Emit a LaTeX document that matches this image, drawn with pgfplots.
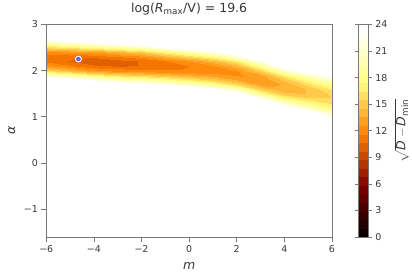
\documentclass[border=0pt]{standalone}
\usepackage{fontspec}
\setmainfont{DejaVu Sans}
\usepackage{amsmath}
\usepackage{pgfplots}
\pgfplotsset{compat=1.18}
\definecolor{spine}{gray}{0.47}
\definecolor{txt}{gray}{0.22}
\definecolor{mk}{RGB}{98,98,240}
\pgfplotsset{
  tick label style={font=\fontsize{9.6}{11}\selectfont, text=txt},
  label style={font=\fontsize{12.7}{14}\selectfont, text=txt},
  axis line style={spine, line width=0.8pt},
  tick style={spine, line width=0.8pt},
}
\begin{document}
\begin{tikzpicture}
\begin{axis}[
  scale only axis, width=290pt, height=216pt,
  xmin=-6, xmax=6, ymin=-1.6, ymax=3,
  xtick={-6,-4,-2,0,2,4,6}, xticklabels={−6,−4,−2,0,2,4,6},
  ytick={-1,0,1,2,3}, yticklabels={−1,0,1,2,3},
  tick align=outside, tick pos=left, major tick length=5pt,
  xlabel={\textit{m}}, ylabel={\textit{α}},
  xlabel style={at={(axis description cs:0.5,-0.134)}, anchor=center},
  ylabel style={at={(axis description cs:-0.121,0.5)}, anchor=center},
  title={log(\textit{R}$_{\text{max}}$/V) = 19.6},
  title style={at={(axis description cs:0.5,1.043)}, anchor=center, font=\fontsize{12.7}{14}\selectfont, text=txt},
  axis on top,
  colormap={afm}{rgb=(0.0417,0,0) rgb=(0.125,0,0) rgb=(0.2083,0,0) rgb=(0.2917,0,0)
    rgb=(0.375,0,0) rgb=(0.4583,0,0) rgb=(0.5417,0.0417,0) rgb=(0.625,0.125,0)
    rgb=(0.7083,0.2083,0) rgb=(0.7917,0.2917,0) rgb=(0.875,0.375,0) rgb=(0.9583,0.4583,0)
    rgb=(1,0.5417,0.0417) rgb=(1,0.625,0.125) rgb=(1,0.7083,0.2083) rgb=(1,0.7917,0.2917)
    rgb=(1,0.875,0.375) rgb=(1,0.9583,0.4583) rgb=(1,1,0.5417) rgb=(1,1,0.625)
    rgb=(1,1,0.7083) rgb=(1,1,0.7917) rgb=(1,1,0.875) rgb=(1,1,0.9583)
    rgb=(1,1,1) rgb=(1,1,1) rgb=(1,1,1) rgb=(1,1,1) rgb=(1,1,1) rgb=(1,1,1) rgb=(1,1,1)},
  colormap access=piecewise constant,
  point meta min=0, point meta max=30,
  colorbar,
  colorbar style={
    scale only axis, width=11pt, height=216pt,
    at={(parent axis.north east)}, anchor=north west, xshift=18pt,
    ymin=0, ymax=24, ytick={0,3,6,9,12,15,18,21,24},
    yticklabels={0,3,6,9,12,15,18,21,24},
    tick align=outside, major tick length=3pt,
    ylabel={$\sqrt{\text{\itshape D} - \text{\itshape D}_{\text{min}}}$},
    ylabel style={at={(axis description cs:4.0,0.5)}, anchor=center, font=\fontsize{12.7}{14}\selectfont, text=txt},
  },
]
\addplot[surf, shader=interp, mesh/cols=13, point meta=explicit]
  table[x=x, y=y, meta=v, row sep=\\] {
x y v\\
-6 0.8 30\\ -5 0.8 30\\ -4 0.8 30\\ -3 0.8 30\\ -2 0.8 30\\ -1 0.8 30\\ 0 0.8 30\\ 1 0.8 30\\ 2 0.8 30\\ 3 0.8 30\\ 4 0.8 30\\ 5 0.8 30\\ 6 0.8 30\\
-6 0.9 30\\ -5 0.9 30\\ -4 0.9 30\\ -3 0.9 30\\ -2 0.9 30\\ -1 0.9 30\\ 0 0.9 30\\ 1 0.9 30\\ 2 0.9 30\\ 3 0.9 30\\ 4 0.9 30\\ 5 0.9 30\\ 6 0.9 26.3\\
-6 1.0 30\\ -5 1.0 30\\ -4 1.0 30\\ -3 1.0 30\\ -2 1.0 30\\ -1 1.0 30\\ 0 1.0 30\\ 1 1.0 30\\ 2 1.0 30\\ 3 1.0 30\\ 4 1.0 30\\ 5 1.0 30\\ 6 1.0 22.6\\
-6 1.1 30\\ -5 1.1 30\\ -4 1.1 30\\ -3 1.1 30\\ -2 1.1 30\\ -1 1.1 30\\ 0 1.1 30\\ 1 1.1 30\\ 2 1.1 30\\ 3 1.1 30\\ 4 1.1 30\\ 5 1.1 24.9\\ 6 1.1 19.7\\
-6 1.2 30\\ -5 1.2 30\\ -4 1.2 30\\ -3 1.2 30\\ -2 1.2 30\\ -1 1.2 30\\ 0 1.2 30\\ 1 1.2 30\\ 2 1.2 30\\ 3 1.2 30\\ 4 1.2 25.5\\ 5 1.2 20.8\\ 6 1.2 17.5\\
-6 1.3 30\\ -5 1.3 30\\ -4 1.3 30\\ -3 1.3 30\\ -2 1.3 30\\ -1 1.3 30\\ 0 1.3 30\\ 1 1.3 30\\ 2 1.3 30\\ 3 1.3 28.0\\ 4 1.3 20.8\\ 5 1.3 17.7\\ 6 1.3 16.2\\
-6 1.4 30\\ -5 1.4 30\\ -4 1.4 30\\ -3 1.4 30\\ -2 1.4 30\\ -1 1.4 30\\ 0 1.4 30\\ 1 1.4 30\\ 2 1.4 30\\ 3 1.4 22.5\\ 4 1.4 17.3\\ 5 1.4 15.7\\ 6 1.4 15.5\\
-6 1.5 30\\ -5 1.5 30\\ -4 1.5 30\\ -3 1.5 30\\ -2 1.5 30\\ -1 1.5 30\\ 0 1.5 30\\ 1 1.5 30\\ 2 1.5 25.1\\ 3 1.5 18.3\\ 4 1.5 14.9\\ 5 1.5 14.6\\ 6 1.5 15.7\\
-6 1.6 30\\ -5 1.6 30\\ -4 1.6 30\\ -3 1.6 30\\ -2 1.6 30\\ -1 1.6 30\\ 0 1.6 27.2\\ 1 1.6 24.0\\ 2 1.6 20.0\\ 3 1.6 15.2\\ 4 1.6 13.7\\ 5 1.6 14.6\\ 6 1.6 16.6\\
-6 1.7 30\\ -5 1.7 30\\ -4 1.7 29.4\\ -3 1.7 26.7\\ -2 1.7 25.3\\ -1 1.7 23.4\\ 0 1.7 21.2\\ 1 1.7 19.0\\ 2 1.7 16.1\\ 3 1.7 13.4\\ 4 1.7 13.6\\ 5 1.7 15.7\\ 6 1.7 18.3\\
-6 1.8 26.6\\ -5 1.8 24.6\\ -4 1.8 22.4\\ -3 1.8 20.4\\ -2 1.8 19.4\\ -1 1.8 18.1\\ 0 1.8 16.7\\ 1 1.8 15.3\\ 2 1.8 13.6\\ 3 1.8 12.8\\ 4 1.8 14.7\\ 5 1.8 17.7\\ 6 1.8 20.8\\
-6 1.9 20.6\\ -5 1.9 18.8\\ -4 1.9 17.0\\ -3 1.9 15.6\\ -2 1.9 15.1\\ -1 1.9 14.3\\ 0 1.9 13.6\\ 1 1.9 13.0\\ 2 1.9 12.4\\ 3 1.9 13.4\\ 4 1.9 17.0\\ 5 1.9 20.8\\ 6 1.9 24.0\\
-6 2.0 16.0\\ -5 2.0 14.5\\ -4 2.0 13.1\\ -3 2.0 12.4\\ -2 2.0 12.1\\ -1 2.0 11.9\\ 0 2.0 11.9\\ 1 2.0 12.0\\ 2 2.0 12.5\\ 3 2.0 15.2\\ 4 2.0 20.4\\ 5 2.0 24.9\\ 6 2.0 28.0\\
-6 2.1 12.9\\ -5 2.1 11.8\\ -4 2.1 10.8\\ -3 2.1 10.6\\ -2 2.1 10.7\\ -1 2.1 11.0\\ 0 2.1 11.6\\ 1 2.1 12.4\\ 2 2.1 14.0\\ 3 2.1 18.3\\ 4 2.1 25.0\\ 5 2.1 30\\ 6 2.1 30\\
-6 2.2 11.3\\ -5 2.2 10.6\\ -4 2.2 10.0\\ -3 2.2 10.3\\ -2 2.2 10.7\\ -1 2.2 11.6\\ 0 2.2 12.7\\ 1 2.2 14.2\\ 2 2.2 16.8\\ 3 2.2 22.5\\ 4 2.2 30\\ 5 2.2 30\\ 6 2.2 30\\
-6 2.3 11.1\\ -5 2.3 10.9\\ -4 2.3 10.8\\ -3 2.3 11.5\\ -2 2.3 12.1\\ -1 2.3 13.7\\ 0 2.3 15.3\\ 1 2.3 17.3\\ 2 2.3 20.9\\ 3 2.3 28.0\\ 4 2.3 30\\ 5 2.3 30\\ 6 2.3 30\\
-6 2.4 12.4\\ -5 2.4 12.7\\ -4 2.4 13.1\\ -3 2.4 14.1\\ -2 2.4 15.1\\ -1 2.4 17.2\\ 0 2.4 19.2\\ 1 2.4 21.8\\ 2 2.4 26.3\\ 3 2.4 30\\ 4 2.4 30\\ 5 2.4 30\\ 6 2.4 30\\
-6 2.5 15.2\\ -5 2.5 16.1\\ -4 2.5 17.0\\ -3 2.5 18.3\\ -2 2.5 19.4\\ -1 2.5 22.2\\ 0 2.5 24.6\\ 1 2.5 27.7\\ 2 2.5 30\\ 3 2.5 30\\ 4 2.5 30\\ 5 2.5 30\\ 6 2.5 30\\
-6 2.6 19.5\\ -5 2.6 21.0\\ -4 2.6 22.4\\ -3 2.6 24.0\\ -2 2.6 25.3\\ -1 2.6 28.7\\ 0 2.6 30\\ 1 2.6 30\\ 2 2.6 30\\ 3 2.6 30\\ 4 2.6 30\\ 5 2.6 30\\ 6 2.6 30\\
-6 2.7 25.3\\ -5 2.7 27.4\\ -4 2.7 29.4\\ -3 2.7 30\\ -2 2.7 30\\ -1 2.7 30\\ 0 2.7 30\\ 1 2.7 30\\ 2 2.7 30\\ 3 2.7 30\\ 4 2.7 30\\ 5 2.7 30\\ 6 2.7 30\\
-6 2.8 30\\ -5 2.8 30\\ -4 2.8 30\\ -3 2.8 30\\ -2 2.8 30\\ -1 2.8 30\\ 0 2.8 30\\ 1 2.8 30\\ 2 2.8 30\\ 3 2.8 30\\ 4 2.8 30\\ 5 2.8 30\\ 6 2.8 30\\
};
\addplot[only marks, mark=*, mark size=3pt, mark options={fill=mk, draw=white, line width=0.9pt}]
  coordinates {(-4.65,2.25)};
\end{axis}
\path (-47pt,-43pt) rectangle (365pt,238pt);
\end{tikzpicture}
\end{document}
